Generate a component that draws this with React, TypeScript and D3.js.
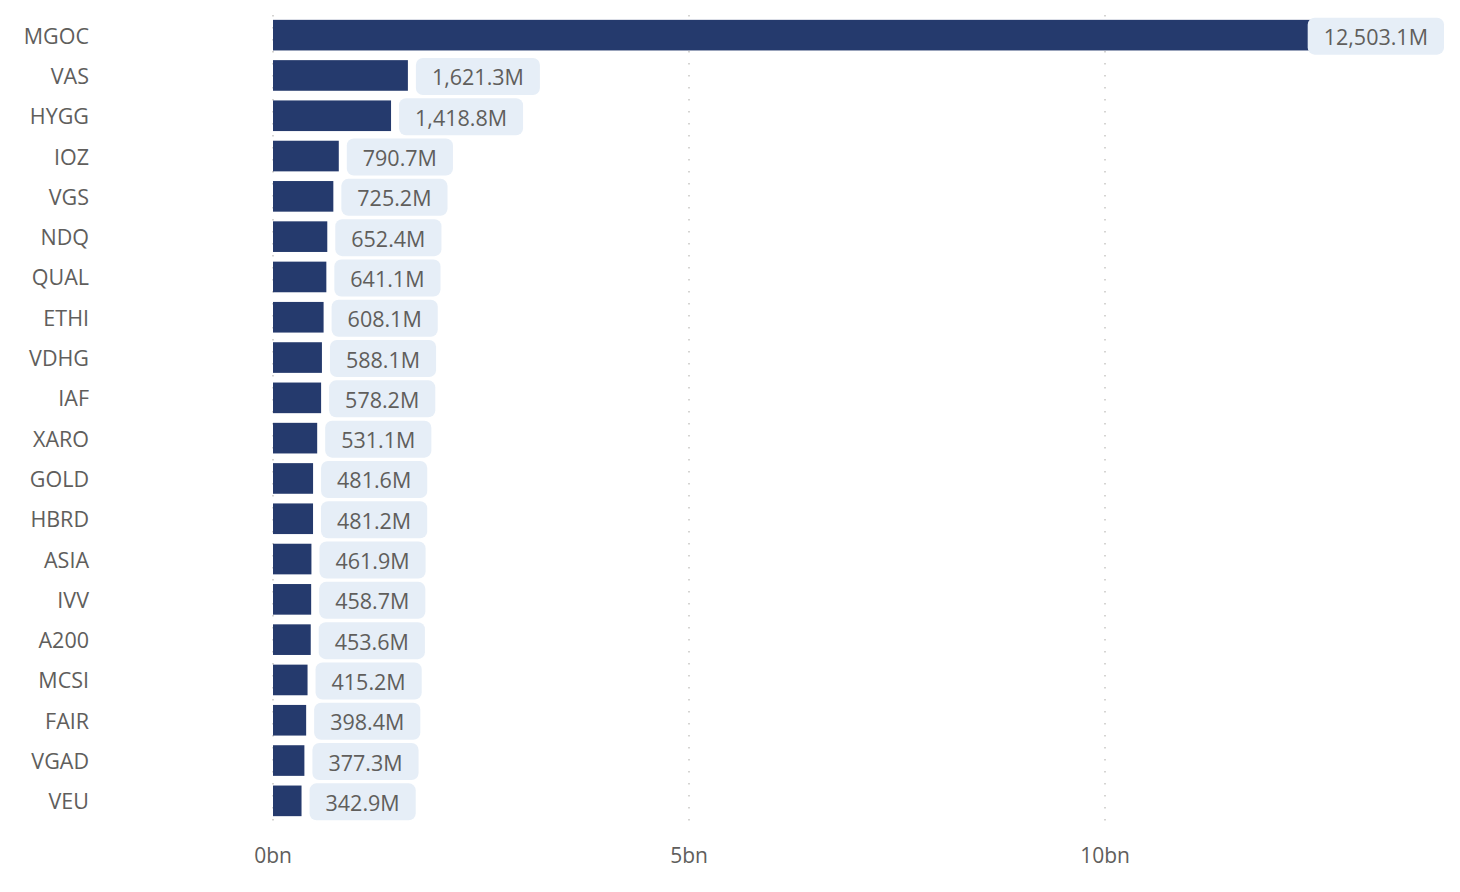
import * as d3 from "d3";
import { useEffect, useRef } from "react";

const tickers = [
  "MGOC", "VAS", "HYGG", "IOZ", "VGS", "NDQ", "QUAL", "ETHI", "VDHG", "IAF",
  "XARO", "GOLD", "HBRD", "ASIA", "IVV", "A200", "MCSI", "FAIR", "VGAD", "VEU",
];
const valuesM = [
  12503.1, 1621.3, 1418.8, 790.7, 725.2, 652.4, 641.1, 608.1, 588.1, 578.2,
  531.1, 481.6, 481.2, 461.9, 458.7, 453.6, 415.2, 398.4, 377.3, 342.9,
];
const tickValues = [0, 5000, 10000];
const tickLabels = ["0bn", "5bn", "10bn"];

export default function App() {
  const svgRef = useRef<SVGSVGElement | null>(null);

  useEffect(() => {
    const width = 1460;
    const height = 892;
    const font = "'Open Sans', 'Noto Sans', sans-serif";
    const textColor = "#605e5c";

    const svg = d3.select(svgRef.current);
    svg.selectAll("*").remove();
    svg.attr("width", width).attr("height", height);

    const x = d3.scaleLinear().domain([0, 10000]).range([273, 1105]);
    const y = d3
      .scaleBand()
      .domain(tickers)
      .range([15, 15 + 40.3 * tickers.length])
      .paddingInner(0.24)
      .paddingOuter(0.12);

    // dotted gridlines
    svg
      .append("g")
      .selectAll("line")
      .data(tickValues)
      .join("line")
      .attr("x1", (d) => x(d))
      .attr("x2", (d) => x(d))
      .attr("y1", 15)
      .attr("y2", 826)
      .attr("stroke", "#c8c6c4")
      .attr("stroke-width", 1.5)
      .attr("stroke-dasharray", "1.5 10.5");

    // axis labels
    svg
      .append("g")
      .selectAll("text")
      .data(tickValues)
      .join("text")
      .attr("x", (d) => x(d))
      .attr("y", 863)
      .attr("text-anchor", "middle")
      .style("font-family", font)
      .style("font-size", "21px")
      .attr("fill", textColor)
      .text((_, i) => tickLabels[i]);

    // category labels
    svg
      .append("g")
      .selectAll("text")
      .data(tickers)
      .join("text")
      .attr("x", 89)
      .attr("y", (d) => y(d)! + y.bandwidth() / 2 + 8.5)
      .attr("text-anchor", "end")
      .style("font-family", font)
      .style("font-size", "21.5px")
      .attr("fill", textColor)
      .text((d) => d);

    // bars
    svg
      .append("g")
      .selectAll("rect")
      .data(tickers)
      .join("rect")
      .attr("x", x(0))
      .attr("y", (d) => y(d)!)
      .attr("width", (_, i) => x(valuesM[i]) - x(0))
      .attr("height", y.bandwidth())
      .attr("fill", "#253a6d");

    // data labels with rounded background
    const fmt = d3.format(",.1f");
    const labels = svg
      .append("g")
      .selectAll("g")
      .data(tickers)
      .join("g");

    labels.each(function (d, i) {
      const g = d3.select(this);
      const cy = y(d)! + y.bandwidth() / 2 + 1;
      const rect = g.append("rect");
      const t = g
        .append("text")
        .attr("y", cy + 9)
        .style("font-family", font)
        .style("font-size", "21.5px")
        .attr("fill", textColor)
        .text(fmt(valuesM[i]) + "M");
      const tw = (t.node() as SVGTextElement).getComputedTextLength();
      const bw = tw + 32;
      const bx = Math.min(x(valuesM[i]) + 8, 1444 - bw);
      rect
        .attr("x", bx)
        .attr("y", cy - 18.5)
        .attr("width", bw)
        .attr("height", 37)
        .attr("rx", 7)
        .attr("fill", "#e6eef7");
      t.attr("x", bx + 16);
    });
  }, []);

  return (
    <div style={{ position: "absolute", left: 0, top: 0, background: "#fff" }}>
      <svg ref={svgRef} style={{ display: "block" }}></svg>
    </div>
  );
}
